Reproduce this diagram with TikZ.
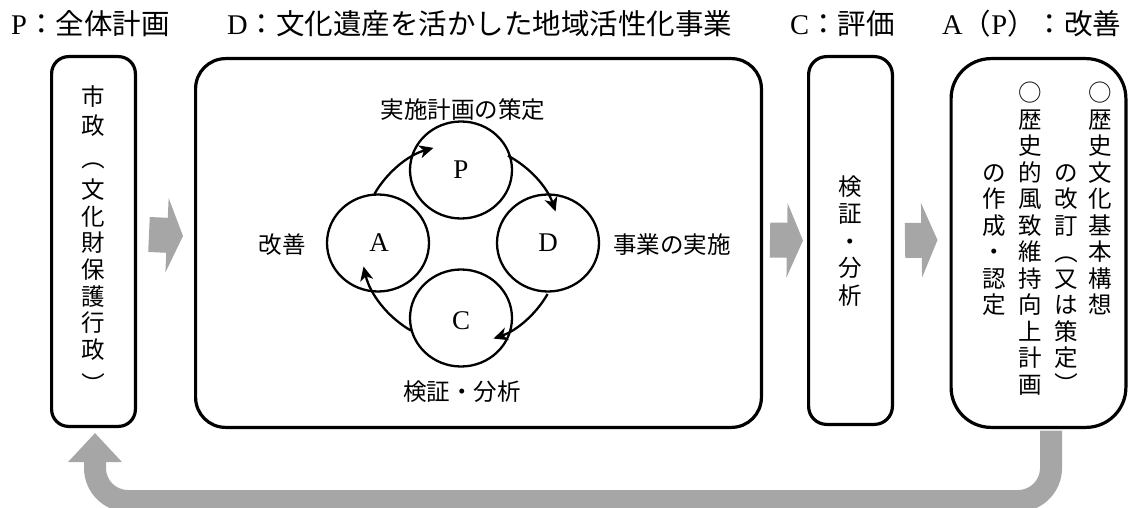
\documentclass[tikz,border=0pt]{standalone}
\usepackage{fontspec}
\setmainfont{Liberation Serif}
\newfontfamily\jp{Noto Sans CJK JP}
\newfontfamily\latf{Liberation Serif}
\usetikzlibrary{arrows.meta,shapes.geometric}
\definecolor{arrowgray}{RGB}{166,166,166}
\tikzset{
  hdr/.style={anchor=west, inner sep=0pt, font=\jp\fontsize{28.5}{32}\selectfont},
  vch/.style={inner sep=0pt, text height=20.7pt, text depth=2.8pt, font=\jp\fontsize{23.5}{26}\selectfont},
  vpar/.style={vch, rotate=-90},
  box/.style={draw, line width=3.2pt, inner sep=0pt},
  ring/.style={draw, ellipse, line width=2.3pt, minimum width=102pt, minimum height=97pt, inner sep=0pt},
  lbl/.style={inner sep=0pt, font=\jp\fontsize{23.5}{26}\selectfont},
  ltr/.style={inner sep=0pt, font=\latf\fontsize{27}{30}\selectfont},
  fat/.style={draw=arrowgray, line width=35pt, -{Triangle[width=74pt,length=16pt]}},
  back/.style={draw=arrowgray, line width=22pt, rounded corners=33pt, -{Triangle[width=52pt,length=29pt]}},
  cyc/.style={line width=2.3pt, -{Stealth[length=14pt,width=13pt,inset=4pt]}},
}
\begin{document}
\begin{tikzpicture}[x=1pt,y=-1pt]
\useasboundingbox (0,0) rectangle (1130,508);
% headers
\node[hdr] (hP) at (11,24) {{\latf P}：全体計画};
\node[hdr] (hD) at (227,24) {{\latf D}：文化遺産を活かした地域活性化事業};
\node[hdr] (hC) at (790,24) {{\latf C}：評価};
\node[hdr] (hA) at (942,24) {{\latf A}（{\latf P}）：改善};
% boxes
\node[box, minimum width=83.8pt, minimum height=369.8pt, rounded corners=17pt] (lbox) at (93.5,241.5) {};
\node[box, minimum width=565.8pt, minimum height=368.8pt, rounded corners=30pt] (cbox) at (478.5,243) {};
\node[box, minimum width=83.8pt, minimum height=367.8pt, rounded corners=18pt] (ebox) at (850.5,240.5) {};
\node[box, minimum width=174.8pt, minimum height=368.8pt, rounded corners=40pt] (abox) at (1038.5,243) {};
% gray arrows
\draw[fat] ([shift={(12,-7)}]lbox.east) -- ([shift={(-11,-7)}]cbox.west);
\draw[fat] ([shift={(7,-3)}]cbox.east) -- ([shift={(-4,0)}]ebox.west);
\draw[fat] ([shift={(11,0)}]ebox.east) -- ([shift={(-12,-3)}]abox.west);
\draw[back] ([shift={(12.5,1.6)}]abox.south) -- ++(0,70.4) -| ([shift={(1.5,5)}]lbox.south);
% left box vertical text
\foreach \ch/\yy [count=\i] in {市/97,政/126,文/190,化/217,財/243,保/270,護/297,行/323,政/350}
  \node[vch] (lt\i) at (93.5,\yy) {\ch};
\node[vpar] (ltpa) at (93.5,158) {（};
\node[vpar] (ltpb) at (93.5,384) {）};
% C box vertical text
\foreach \ch/\yy [count=\i] in {検/187,証/214,・/242,分/268,析/296}
  \node[vch] (et\i) at (850.5,\yy) {\ch};
% A box vertical text
\foreach \ch/\k [count=\i] in {○/0,歴/1,史/2,文/3,化/4,基/5,本/6,構/7,想/8}
  \node[vch] (ra\i) at (1100,{93+26.5*\k}) {\ch};
\foreach \ch/\k [count=\i] in {の/3,改/4,訂/5,又/7,は/8,策/9,定/10}
  \node[vch] (rb\i) at (1066,{93+26.5*\k}) {\ch};
\node[vpar] (rbpa) at (1066,{93+26.5*6}) {（};
\node[vpar] (rbpb) at (1066,{93+26.5*11}) {）};
\foreach \ch/\k [count=\i] in {○/0,歴/1,史/2,的/3,風/4,致/5,維/6,持/7,向/8,上/9,計/10,画/11}
  \node[vch] (rc\i) at (1030,{93+26.5*\k}) {\ch};
\foreach \ch/\k [count=\i] in {の/3,作/4,成/5,・/6,認/7,定/8}
  \node[vch] (rd\i) at (994,{93+26.5*\k}) {\ch};
% PDCA cycle
\coordinate (ctr) at (461,244);
\node[ring] (P) at (461,170) {};
\node[ring] (A) at (378,243) {};
\node[ring] (D) at (548,243) {};
\node[ring] (C) at (461,318) {};
\node[ltr] (Pt) at (P.center) {P};
\node[ltr] (At) at ([shift={(1,0)}]A.center) {A};
\node[ltr] (Dt) at (D.center) {D};
\node[ltr] (Ct) at ([shift={(0,3)}]C.center) {C};
\draw[cyc] ([shift={(-150:100)}]ctr) arc[start angle=-150, end angle=-106, radius=100];
\draw[cyc] ([shift={(-62:100)}]ctr) arc[start angle=-62, end angle=-19, radius=100];
\draw[cyc] ([shift={(30:100)}]ctr) arc[start angle=30, end angle=71, radius=100];
\draw[cyc] ([shift={(120:100)}]ctr) arc[start angle=120, end angle=167, radius=100];
\node[lbl] (lP) at (463,110) {実施計画の策定};
\node[lbl] (lD) at (672,245) {事業の実施};
\node[lbl] (lA) at (282,245) {改善};
\node[lbl] (lC) at (462,392) {検証・分析};
\end{tikzpicture}
\end{document}
